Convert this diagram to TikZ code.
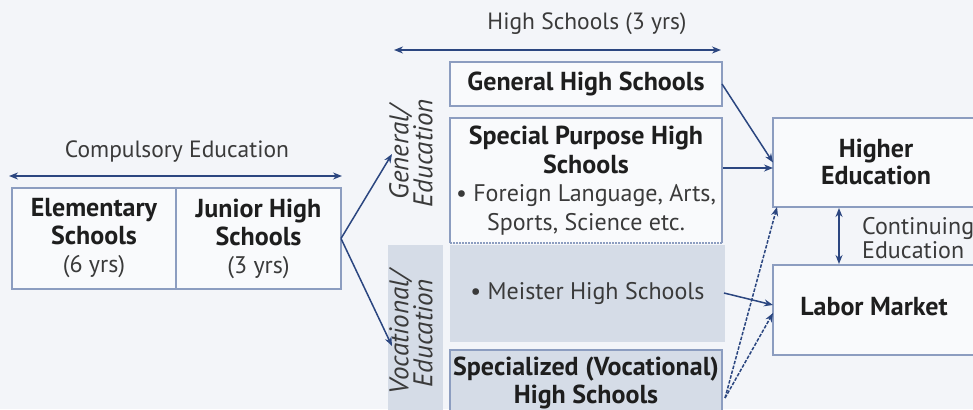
\documentclass[tikz,border=0pt]{standalone}
\usepackage{fontspec}
\setmainfont{PT Sans}
\usetikzlibrary{arrows.meta}
\definecolor{bg}{HTML}{F3F5F9}
\definecolor{boxfill}{HTML}{F9FAFC}
\definecolor{shadec}{HTML}{D5DCE7}
\definecolor{edge}{HTML}{8C9DC0}
\definecolor{arr}{HTML}{2B4680}
\definecolor{txt}{HTML}{1E1E1E}
\definecolor{ltxt}{HTML}{3A3A3A}
\newcommand{\rg}[1]{{\fontsize{24}{28}\selectfont\color{ltxt}#1}}
\begin{document}
\begin{tikzpicture}[x=1pt,y=-1pt,
  box/.style={draw=edge, line width=1.3pt, fill=boxfill, inner sep=0pt, outer sep=0pt,
    align=center, text=txt, anchor=north west, font=\fontsize{26}{28}\selectfont\bfseries},
  shadebox/.style={fill=shadec, inner sep=0pt, outer sep=0pt, anchor=north west,
    align=center, text=txt, font=\fontsize{26}{28}\selectfont},
  lbl/.style={text=ltxt, inner sep=0pt, font=\fontsize{23.5}{24}\selectfont},
  side/.style={text=ltxt, inner sep=0pt, rotate=90, align=center,
    font=\itshape\fontsize{27}{22}\selectfont},
  conn/.style={draw=arr, line width=1.5pt, -{Stealth[length=9pt,width=7pt]}},
  dconn/.style={conn, dash pattern=on 3.5pt off 1.5pt},
  span/.style={draw=arr, line width=1.8pt, {Stealth[length=9pt,width=7pt]}-{Stealth[length=9pt,width=7pt]}}
]
\clip (0,0) rectangle (973,409);
\fill[bg] (0,0) rectangle (973,409);

% compulsory
\node[lbl] (comp) at (177,152) {Compulsory Education};
\coordinate (compL) at (9,176);
\coordinate (compR) at (342,176);
\draw[span] (compL) -- (compR);
\node[box, minimum width=164pt, minimum height=101pt] (elem) at (12,188)
  {Elementary\\Schools\\\rg{\mdseries(6 yrs)}};
\node[box, minimum width=165pt, minimum height=101pt] (jr) at (176,188)
  {Junior High\\Schools\\\rg{\mdseries(3 yrs)}};

% side labels
\node[shadebox, minimum width=55pt, minimum height=170pt] (vocbg) at (388,245) {};
\node[side] (gen) at (411,153) {General/\\Education};
\node[side] (voc) at (411,333) {Vocational/\\Education};
\coordinate (genin) at (392,154);
\coordinate (vocin) at (392,346);
\draw[conn] (jr.east) -- (genin);
\draw[conn] (jr.east) -- (vocin);

% high schools
\node[lbl] (hs) at (587,24) {High Schools (3 yrs)};
\coordinate (hsL) at (394,50);
\coordinate (hsR) at (721,50);
\draw[span] (hsL) -- (hsR);
\node[box, minimum width=272pt, minimum height=44pt] (ghs) at (450,62)
  {General High Schools};
\node[shadebox, minimum width=275pt, minimum height=97pt] (meister) at (450,245)
  {\rg{• Meister High Schools}};
\node[inner sep=0pt, outer sep=0pt, anchor=north west, fill=boxfill, minimum width=272pt,
  minimum height=125pt, align=center, text=txt, font=\fontsize{26}{28.5}\selectfont] (sp) at (450,118)
  {\textbf{Special Purpose High}\\\textbf{Schools}\\\rg{• Foreign Language, Arts,}\\\rg{Sports, Science etc.}};
\draw[edge, line width=1.3pt] (sp.south west) -- (sp.north west) -- (sp.north east) -- (sp.south east);
\draw[edge, line width=1.3pt, dash pattern=on 1.5pt off 1.5pt] (sp.south west) -- (sp.south east);
\node[box, fill=shadec, minimum width=272pt, minimum height=66pt] (spec) at (450,350)
  {Specialized (Vocational)\\High Schools};

% destinations
\node[box, minimum width=210pt, minimum height=89pt] (higher) at (773,118) {};
\node[text=txt, align=center, inner sep=0pt, font=\fontsize{26}{27}\selectfont\bfseries] (highert) at (876,162)
  {Higher\\Education};
\node[box, minimum width=210pt, minimum height=90pt] (labor) at (773,265) {};
\node[text=txt, inner sep=0pt, font=\fontsize{26}{27}\selectfont\bfseries] (labort) at (874,307) {Labor Market};
\coordinate (hb) at (839,208);
\coordinate (lt) at (839,264);
\draw[span] (hb) -- (lt);
\node[text=ltxt, align=left, anchor=west, inner sep=0pt, font=\fontsize{24}{24}\selectfont] (cont) at (862,238)
  {Continuing\\Education};

% connectors
\coordinate (spo) at (723,168);
\coordinate (hi2) at (773,168);
\coordinate (mo) at (724,293);
\coordinate (lo1) at (773,305);
\coordinate (so) at (725,398);
\coordinate (hi3) at (777,207);
\coordinate (lo2) at (773,313);
\draw[conn] (ghs.east) -- (higher.west);
\draw[conn] (spo) -- (hi2);
\draw[conn] (mo) -- (lo1);
\draw[dconn] (so) -- (hi3);
\draw[dconn] (so) -- (lo2);
\end{tikzpicture}
\end{document}
